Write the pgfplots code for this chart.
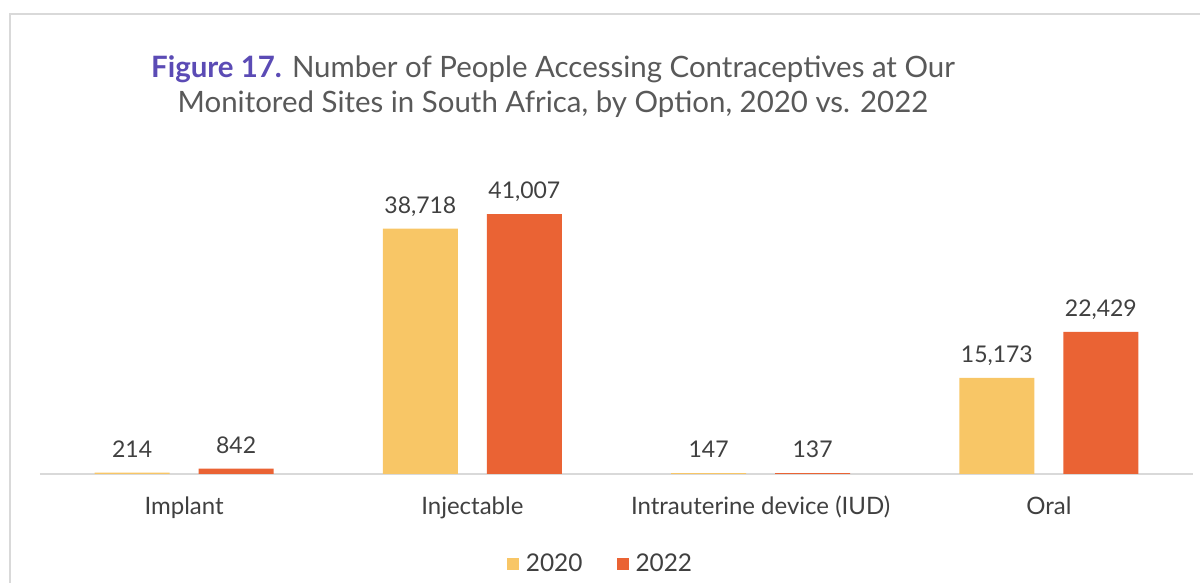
\documentclass[border=0pt]{standalone}
\usepackage{pgfplots}
\pgfplotsset{compat=1.18}
\usepackage{fontspec}
\setmainfont{Lato}
\definecolor{cy}{HTML}{F8C666}
\definecolor{co}{HTML}{EA6334}
\definecolor{txt}{HTML}{404040}
\definecolor{ttl}{HTML}{595959}
\definecolor{pur}{HTML}{5B4BB5}
\definecolor{lgray}{HTML}{D9D9D9}
\begin{document}
\begin{tikzpicture}[x=0.5pt,y=0.5pt]
\useasboundingbox (0,0) rectangle (1200,583);
\draw[lgray, line width=1pt] (10,0) -- (10,569) -- (1200,569);
\node[anchor=base, font=\fontsize{14.72}{18}\selectfont, text=ttl] at (553,505) {\textbf{\color{pur}Figure 17.} Number of People Accessing Contraceptives at Our};
\node[anchor=base, font=\fontsize{14.72}{18}\selectfont, text=ttl] at (553,470) {Monitored Sites in South Africa, by Option, 2020 vs. 2022};
\begin{axis}[
  at={(20pt,54.5pt)}, anchor=south west,
  scale only axis, width=576.5pt, height=158.5pt,
  ymin=0, ymax=50000, xmin=-0.5, xmax=3.5,
  axis x line=bottom, axis y line=none,
  x axis line style={-, draw=lgray, line width=1pt},
  xtick=data, major tick length=0pt,
  xticklabels={Implant, Injectable, Intrauterine device (IUD), Oral},
  xticklabel style={font=\fontsize{12}{14}\selectfont, text=txt, anchor=base, yshift=-20.5pt},
  ybar, bar width=37.5pt,
  nodes near coords,
  nodes near coords style={font=\fontsize{11.5}{14}\selectfont, text=txt, anchor=south, inner sep=0pt, text depth=0pt, yshift=7.5pt, /pgf/number format/.cd, fixed, 1000 sep={,}, assume math mode=true},
  legend style={at={(0.487,-0.285)}, anchor=center, draw=none, legend columns=2, font=\fontsize{12.2}{14}\selectfont, text=txt, /tikz/every even column/.append style={column sep=15pt}},
  legend image code/.code={\fill[#1, draw=none] (0pt,-3pt) rectangle (6pt,3pt); \path (7.5pt,0pt);},
]
\addplot[fill=cy, draw=none, bar shift=-26pt] coordinates {(0,214) (1,38718) (2,147) (3,15173)};
\addplot[fill=co, draw=none, bar shift=26pt] coordinates {(0,842) (1,41007) (2,137) (3,22429)};
\legend{2020, 2022}
\end{axis}
\end{tikzpicture}
\end{document}
